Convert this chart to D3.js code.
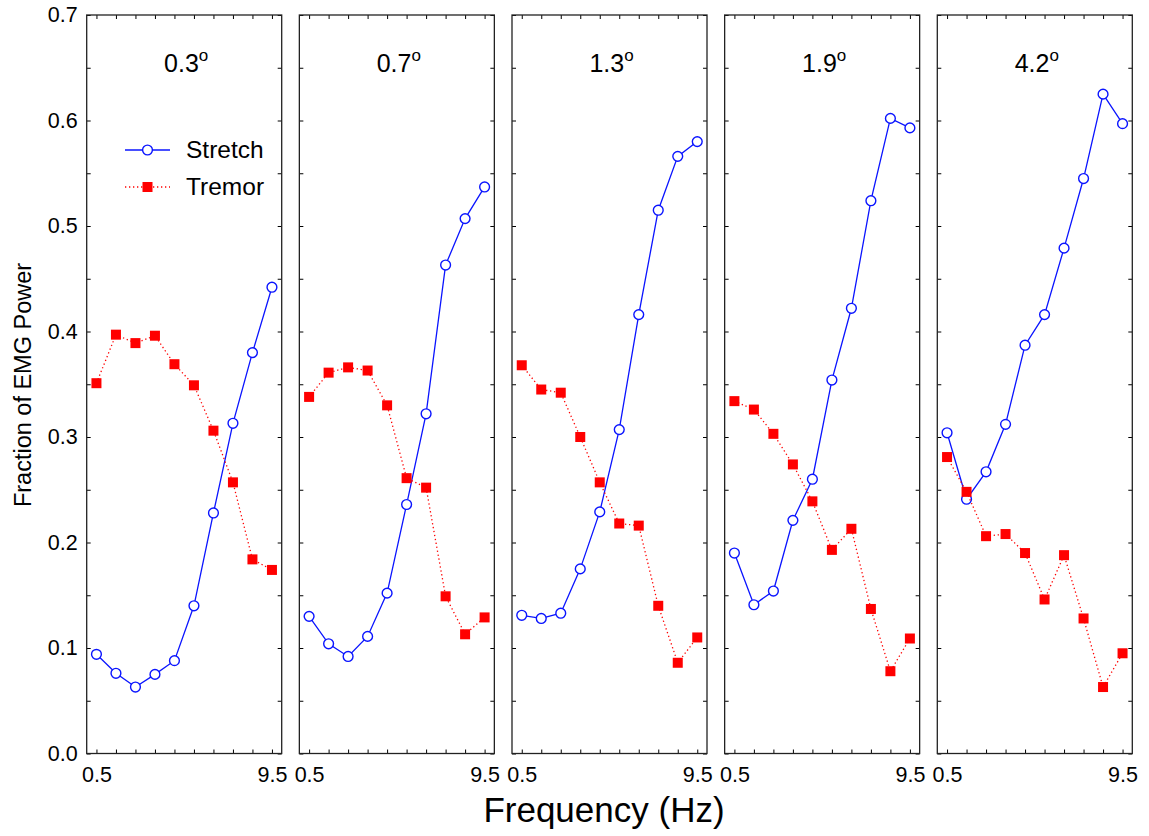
<!DOCTYPE html>
<meta charset="utf-8">
<script src="https://d3js.org/d3.v7.min.js"></script>
<style>
  body { margin: 0; background: #fff; }
  text { font-family: "Liberation Sans", Arial, sans-serif; fill: #000; }
</style>
<div id="chart"></div>
<script>

// frequencies (Hz) shared by all panels
var freqs = [0.5, 1.5, 2.5, 3.5, 4.5, 5.5, 6.5, 7.5, 8.5, 9.5];

// panel titles (amplitude, degrees)
var amps = ["0.3", "0.7", "1.3", "1.9", "4.2"];

// Stretch series per panel
var stretch03 = [0.094, 0.076, 0.063, 0.075, 0.088, 0.140, 0.228, 0.313, 0.380, 0.442];
var stretch07 = [0.130, 0.104, 0.092, 0.111, 0.152, 0.236, 0.322, 0.463, 0.507, 0.537];
var stretch13 = [0.131, 0.128, 0.133, 0.175, 0.229, 0.307, 0.416, 0.515, 0.566, 0.580];
var stretch19 = [0.190, 0.141, 0.154, 0.221, 0.260, 0.354, 0.422, 0.524, 0.602, 0.593];
var stretch42 = [0.304, 0.241, 0.267, 0.312, 0.387, 0.416, 0.479, 0.545, 0.625, 0.597];

// Tremor series per panel
var tremor03 = [0.351, 0.397, 0.389, 0.396, 0.369, 0.349, 0.306, 0.257, 0.184, 0.174];
var tremor07 = [0.338, 0.361, 0.366, 0.363, 0.330, 0.261, 0.252, 0.149, 0.113, 0.129];
var tremor13 = [0.368, 0.345, 0.342, 0.300, 0.257, 0.218, 0.216, 0.140, 0.086, 0.110];
var tremor19 = [0.334, 0.326, 0.303, 0.274, 0.239, 0.193, 0.213, 0.137, 0.078, 0.109];
var tremor42 = [0.281, 0.248, 0.206, 0.208, 0.190, 0.146, 0.188, 0.128, 0.063, 0.095];

var stretchAll = [stretch03, stretch07, stretch13, stretch19, stretch42];
var tremorAll = [tremor03, tremor07, tremor13, tremor19, tremor42];

var yLabels = [0, 0.1, 0.2, 0.3, 0.4, 0.5, 0.6, 0.7];
var xLabels = [0.5, 9.5];

var width = 1149, height = 836;
var firstLeft = 86.7, panelStep = 212.65, panelW = 195;
var plotTop = 15, plotBottom = 753.5;

var svg = d3.select("#chart").append("svg")
  .attr("width", width)
  .attr("height", height);

var y = d3.scaleLinear().domain([0, 0.7]).range([plotBottom, plotTop]);
var yMinor = d3.range(0, 0.7001, 0.05);

var blue = "#0a14ff", red = "#ff0000";

amps.forEach(function(amp, i) {
  var left = firstLeft + i * panelStep;
  var x = d3.scaleLinear().domain([0, 10]).range([left, left + panelW]);

  var g = svg.append("g");

  // inward ticks on all four sides
  function ticks(axis, tr) {
    var a = g.append("g").attr("transform", tr).call(axis);
    a.select(".domain").remove();
    a.selectAll("line").attr("stroke", "#000").attr("stroke-width", 1);
    return a;
  }
  ticks(d3.axisLeft(y).tickValues(yMinor).tickSizeInner(-4).tickSizeOuter(0).tickFormat(""),
        "translate(" + left + ",0)");
  ticks(d3.axisRight(y).tickValues(yMinor).tickSizeInner(-4).tickSizeOuter(0).tickFormat(""),
        "translate(" + (left + panelW) + ",0)");
  ticks(d3.axisTop(x).tickValues(freqs).tickSizeInner(-4).tickSizeOuter(0).tickFormat(""),
        "translate(0," + plotTop + ")");
  ticks(d3.axisBottom(x).tickValues(freqs).tickSizeInner(-4).tickSizeOuter(0).tickFormat(""),
        "translate(0," + plotBottom + ")");

  // x labels
  var xl = g.append("g").attr("transform", "translate(0," + plotBottom + ")")
    .call(d3.axisBottom(x).tickValues(xLabels).tickSize(0).tickPadding(13).tickFormat(d3.format(".1f")));
  xl.select(".domain").remove();
  xl.selectAll("text").style("font-size", "21.5px");

  if (i === 0) {
    var yl = g.append("g").attr("transform", "translate(" + left + ",0)")
      .call(d3.axisLeft(y).tickValues(yLabels).tickSize(0).tickPadding(9).tickFormat(d3.format(".1f")));
    yl.select(".domain").remove();
    yl.selectAll("text").style("font-size", "21.5px");
  }

  // frame
  g.append("rect")
    .attr("x", left).attr("y", plotTop)
    .attr("width", panelW).attr("height", plotBottom - plotTop)
    .attr("fill", "none").attr("stroke", "#222").attr("stroke-width", 1.3);

  // title
  var t = g.append("text")
    .attr("x", left + panelW / 2 + 2)
    .attr("y", 72)
    .attr("text-anchor", "middle")
    .attr("font-size", 25);
  t.append("tspan").text(amp);
  t.append("tspan").attr("font-size", 17).attr("dy", -11).text("o");

  var line = d3.line()
    .x(function(d, k) { return x(freqs[k]); })
    .y(function(d) { return y(d); });

  // Stretch
  g.append("path").datum(stretchAll[i])
    .attr("d", line)
    .attr("fill", "none").attr("stroke", blue).attr("stroke-width", 1.3);
  g.selectAll(".st").data(stretchAll[i]).enter().append("circle")
    .attr("cx", function(d, k) { return x(freqs[k]); })
    .attr("cy", function(d) { return y(d); })
    .attr("r", 4.9)
    .attr("fill", "#fff").attr("stroke", blue).attr("stroke-width", 1.4);

  // Tremor
  g.append("path").datum(tremorAll[i])
    .attr("d", line)
    .attr("fill", "none").attr("stroke", red).attr("stroke-width", 1.3)
    .attr("stroke-dasharray", "1.3,2.7");
  g.selectAll(".tr").data(tremorAll[i]).enter().append("rect")
    .attr("x", function(d, k) { return x(freqs[k]) - 5; })
    .attr("y", function(d) { return y(d) - 5; })
    .attr("width", 10).attr("height", 10)
    .attr("fill", red);
});

// legend in first panel
var leg = svg.append("g");
leg.append("line").attr("x1", 125).attr("x2", 170).attr("y1", 150).attr("y2", 150)
  .attr("stroke", blue).attr("stroke-width", 1.3);
leg.append("circle").attr("cx", 147.5).attr("cy", 150).attr("r", 4.9)
  .attr("fill", "#fff").attr("stroke", blue).attr("stroke-width", 1.4);
leg.append("text").attr("x", 186).attr("y", 158).attr("font-size", 24.5).text("Stretch");
leg.append("line").attr("x1", 125).attr("x2", 170).attr("y1", 187).attr("y2", 187)
  .attr("stroke", red).attr("stroke-width", 1.3).attr("stroke-dasharray", "1.3,2.7");
leg.append("rect").attr("x", 142.5).attr("y", 182).attr("width", 10).attr("height", 10)
  .attr("fill", red);
leg.append("text").attr("x", 186).attr("y", 195).attr("font-size", 24.5).text("Tremor");

// axis titles
svg.append("text")
  .attr("x", 604).attr("y", 822)
  .attr("text-anchor", "middle")
  .attr("font-size", 35)
  .text("Frequency (Hz)");

svg.append("text")
  .attr("transform", "translate(31,385) rotate(-90)")
  .attr("text-anchor", "middle")
  .attr("font-size", 23.5)
  .text("Fraction of EMG Power");

</script>
